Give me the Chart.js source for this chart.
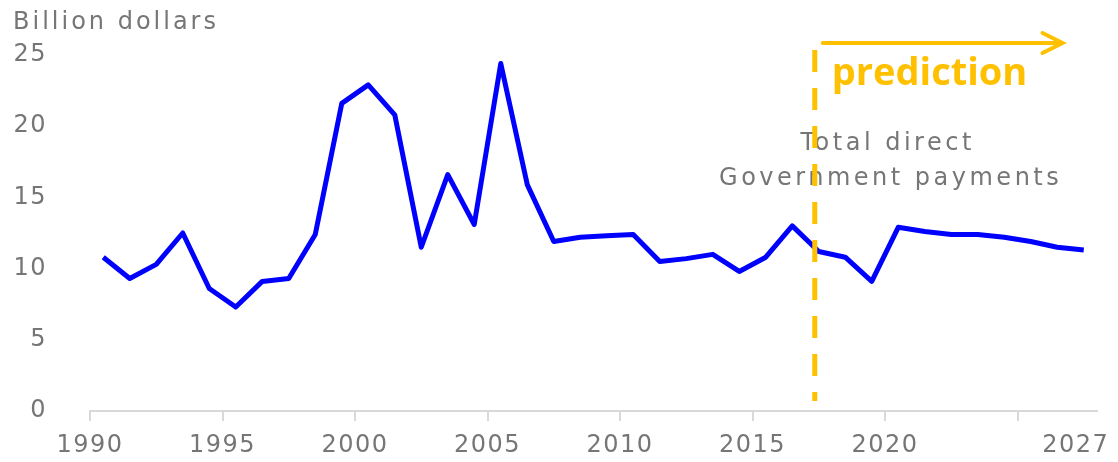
<!DOCTYPE html>
<html>
<head>
<meta charset="utf-8">
<script src="https://cdn.jsdelivr.net/npm/chart.js@4/dist/chart.umd.min.js"></script>
<style>
html,body{margin:0;padding:0;background:#ffffff;}
#wrap{width:1118px;height:462px;position:relative;}
</style>
</head>
<body>
<div id="wrap"><canvas id="c"></canvas></div>
<script>
// ---- data ----
const years = [1990,1991,1992,1993,1994,1995,1996,1997,1998,1999,
               2000,2001,2002,2003,2004,2005,2006,2007,2008,2009,
               2010,2011,2012,2013,2014,2015,2016,2017,2018,2019,
               2020,2021,2022,2023,2024,2025,2026,2027];
const payments = [10.8, 9.3, 10.3, 12.5, 8.6, 7.3, 9.1, 9.3, 12.4, 21.6,
                  22.9, 20.8, 11.5, 16.6, 13.1, 24.4, 15.9, 11.9, 12.2, 12.3,
                  12.4, 10.5, 10.7, 11.0, 9.8, 10.8, 13.0, 11.2, 10.8, 9.1,
                  12.9, 12.6, 12.4, 12.4, 12.2, 11.9, 11.5, 11.3];
const xTickYears  = [1990, 1995, 2000, 2005, 2010, 2015, 2020, 2025];
const xTickLabels = ['1990','1995','2000','2005','2010','2015','2020',''];
const lastYearLabel = '2027';
const yTicks = [0, 5, 10, 15, 20, 25];
const yAxisTitle = 'Billion dollars';
const seriesLabelLines = ['Total direct', 'Government payments'];
const predictionLabel = 'prediction';
const predictionStartYear = 2017;

// ---- styles ----
const GREY = '#767676';
const ORANGE = '#ffc000';
const BLUE = '#0000ff';
const AXIS = '#d9d9d9';
const FONT = 'DejaVu Sans';

const spacingPlugin = {
  id: 'spacing',
  beforeDraw(chart) { chart.ctx.letterSpacing = '1.5px'; },
  afterDraw(chart) { chart.ctx.letterSpacing = '0px'; }
};

const annotatePlugin = {
  id: 'annotate',
  afterDatasetsDraw(chart) {
    const ctx = chart.ctx, xs = chart.scales.x, ys = chart.scales.y;
    const top = ys.getPixelForValue(25);
    const bottom = ys.getPixelForValue(0);
    ctx.save();
    // y axis title
    ctx.letterSpacing = '3px';
    ctx.fillStyle = GREY;
    ctx.font = '24px "' + FONT + '"';
    ctx.textAlign = 'left';
    ctx.textBaseline = 'middle';
    ctx.fillText(yAxisTitle, 13, 23);
    // series label
    ctx.letterSpacing = '3.5px';
    ctx.textAlign = 'center';
    const lx = xs.getPixelForValue(2019.6);
    ctx.fillText(seriesLabelLines[0], lx, ys.getPixelForValue(18.8));
    ctx.fillText(seriesLabelLines[1], lx + 3, ys.getPixelForValue(16.3));
    // dashed divider
    const xd = xs.getPixelForValue(predictionStartYear - 0.15);
    ctx.strokeStyle = ORANGE;
    ctx.lineWidth = 5;
    ctx.setLineDash([22, 16]);
    ctx.beginPath();
    ctx.moveTo(xd, top - 5);
    ctx.lineTo(xd, bottom - 10);
    ctx.stroke();
    ctx.setLineDash([]);
    // arrow
    const ay = top - 12;
    const ax1 = xd + 8, ax2 = xs.getPixelForValue(2026.2);
    ctx.lineWidth = 4;
    ctx.lineCap = 'round';
    ctx.lineJoin = 'miter';
    ctx.beginPath();
    ctx.moveTo(ax1, ay); ctx.lineTo(ax2, ay);
    ctx.moveTo(ax2 - 20, ay - 10); ctx.lineTo(ax2, ay); ctx.lineTo(ax2 - 20, ay + 10);
    ctx.stroke();
    // prediction text
    ctx.letterSpacing = '0px';
    ctx.fillStyle = ORANGE;
    ctx.font = 'bold 38px "Open Sans"';
    ctx.textAlign = 'left';
    ctx.textBaseline = 'alphabetic';
    ctx.fillText(predictionLabel, xd + 17, top + 30);
    ctx.restore();
  }
};

new Chart(document.getElementById('c'), {
  type: 'line',
  data: {
    datasets: [{
      label: seriesLabelLines.join(' '),
      data: years.map((y, i) => ({ x: y, y: payments[i] })),
      borderColor: BLUE,
      borderWidth: 5,
      borderJoinStyle: 'round',
      pointRadius: 0,
      tension: 0,
      fill: false
    }]
  },
  options: {
    responsive: true,
    maintainAspectRatio: false,
    animation: false,
    layout: { padding: { top: 55, right: 21, left: 0, bottom: 0 } },
    plugins: { legend: { display: false }, tooltip: { enabled: false }, title: { display: false } },
    scales: {
      x: {
        type: 'linear',
        min: years[0] - 0.5,
        max: years[years.length - 1] + 0.5,
        afterBuildTicks: (s) => {
          s.ticks = xTickYears.map(y => ({ value: y - 0.5 }))
            .concat([{ value: years[years.length - 1] - 0.3 }]);
        },
        afterFit: (s) => { s.height = 51; },
        ticks: {
          autoSkip: false,
          maxRotation: 0,
          padding: 10,
          color: GREY,
          font: { family: FONT, size: 24 },
          callback: (v, i) => (i < xTickLabels.length ? xTickLabels[i] : lastYearLabel)
        },
        grid: {
          drawOnChartArea: false,
          drawTicks: true,
          tickLength: 10,
          lineWidth: 2,
          color: (c) => (c.tick && c.tick.value > years[years.length - 1] - 1 ? 'rgba(0,0,0,0)' : AXIS)
        },
        border: { display: true, color: AXIS, width: 2 }
      },
      y: {
        type: 'linear',
        min: 0,
        max: 25,
        afterBuildTicks: (s) => { s.ticks = yTicks.map(v => ({ value: v })); },
        afterFit: (s) => { s.width = 90; },
        ticks: {
          padding: 0,
          color: GREY,
          font: { family: FONT, size: 24 }
        },
        grid: { display: false, drawTicks: true, tickLength: 43 },
        border: { display: false }
      }
    }
  },
  plugins: [spacingPlugin, annotatePlugin]
});
</script>
</body>
</html>
